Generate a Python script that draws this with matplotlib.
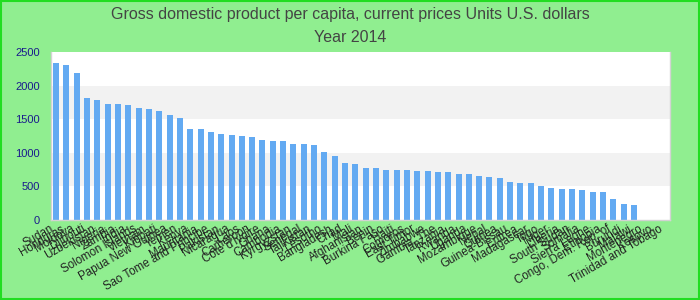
import matplotlib
matplotlib.use("Agg")
import matplotlib.pyplot as plt
from matplotlib.patches import Rectangle

# GDP per capita 2014 (USD); None = no data
countries = [
    "Sudan", "Honduras", "Moldova", "Djibouti", "Uzbekistan", "Nigeria",
    "Zambia", "India", "Solomon Islands", "Vietnam", "Kiribati",
    "Papua New Guinea", "Yemen", "Kenya", "Mauritania",
    "Sao Tome and Principe", "Pakistan", "Nicaragua", "Laos", "Cameroon",
    "Cote d'Ivoire", "Ghana", "Cambodia", "Kyrgyzstan", "Senegal",
    "Tajikistan", "Lesotho", "Bangladesh", "Chad", "Mali", "Afghanistan",
    "Benin", "Burkina Faso", "Haiti", "Comoros", "East Timor", "Zimbabwe",
    "Gambia, The", "Tanzania", "Rwanda", "Uganda", "Mozambique", "Nepal",
    "Guinea", "Guinea-Bissau", "Eritrea", "Madagascar", "Togo", "Niger",
    "Liberia", "South Sudan", "Somalia", "Sierra Leone", "Ethiopia",
    "Congo, Dem. Rep. of", "Burundi", "Malawi", "Montenegro",
    "Kosovo", "Trinidad and Tobago",
]
gdp_per_capita = [
    2336, 2306, 2187, 1815, 1786, 1726, 1726, 1711, 1667, 1652, 1622,
    1562, 1518, 1354, 1354, 1309, 1280, 1265, 1250, 1235, 1190, 1176,
    1176, 1131, 1131, 1116, 1012, 952, 848, 833, 774, 774, 744, 744,
    744, 729, 729, 714, 714, 684, 684, 655, 640, 625, 565, 551, 551,
    506, 476, 461, 461, 446, 417, 417, 312, 238, 223, None, None, None,
]
y_ticks = [0, 500, 1000, 1500, 2000, 2500]

bg_green = "#90EE90"
bar_blue = "#63AAF2"

plt.rcParams["font.family"] = ["Liberation Sans Narrow", "Liberation Sans", "DejaVu Sans"]

fig = plt.figure(figsize=(7, 3), dpi=100, facecolor=bg_green)
ax = fig.add_axes([51 / 700, 80 / 300, 619 / 700, 168 / 300])
ax.set_facecolor("white")

# alternating horizontal bands
for i in range(len(y_ticks) - 1):
    if i % 2 == 1:
        ax.axhspan(y_ticks[i], y_ticks[i + 1], color="#F2F2F2", zorder=0, lw=0)

xs = [i for i, v in enumerate(gdp_per_capita) if v is not None]
vals = [v for v in gdp_per_capita if v is not None]
ax.bar(xs, vals, width=0.58, color=bar_blue, zorder=2)

ax.set_xlim(-0.5, len(countries) - 0.5)
ax.set_ylim(0, 2500)
ax.set_yticks(y_ticks)
ax.set_yticklabels([str(t) for t in y_ticks], color="#1A1A8C", fontsize=8,
                   family=["Liberation Sans", "DejaVu Sans"])
ax.tick_params(axis="y", length=0, pad=8)
ax.set_xticks(range(len(countries)))
ax.set_xticklabels(countries, rotation=30, ha="right", fontsize=8.3,
                   color="#222222", family=["Liberation Sans", "DejaVu Sans"])
ax.tick_params(axis="x", length=0, pad=2)

for s in ax.spines.values():
    s.set_color("#D3D3D3")
    s.set_linewidth(1)
ax.spines["top"].set_visible(False)

fig.text(0.5, 1 - 14 / 300, "Gross domestic product per capita, current prices Units U.S. dollars",
         ha="center", va="center", fontsize=11.5, color="#444444")
fig.text(0.5, 1 - 37 / 300, "Year 2014", ha="center", va="center",
         fontsize=11.5, color="#444444")

fig.patches.append(Rectangle((0.001, 0.002), 0.997, 0.995, transform=fig.transFigure,
                             fill=False, edgecolor="#22DD22", lw=1.5))

fig.savefig("out.png", dpi=100, facecolor=bg_green)
